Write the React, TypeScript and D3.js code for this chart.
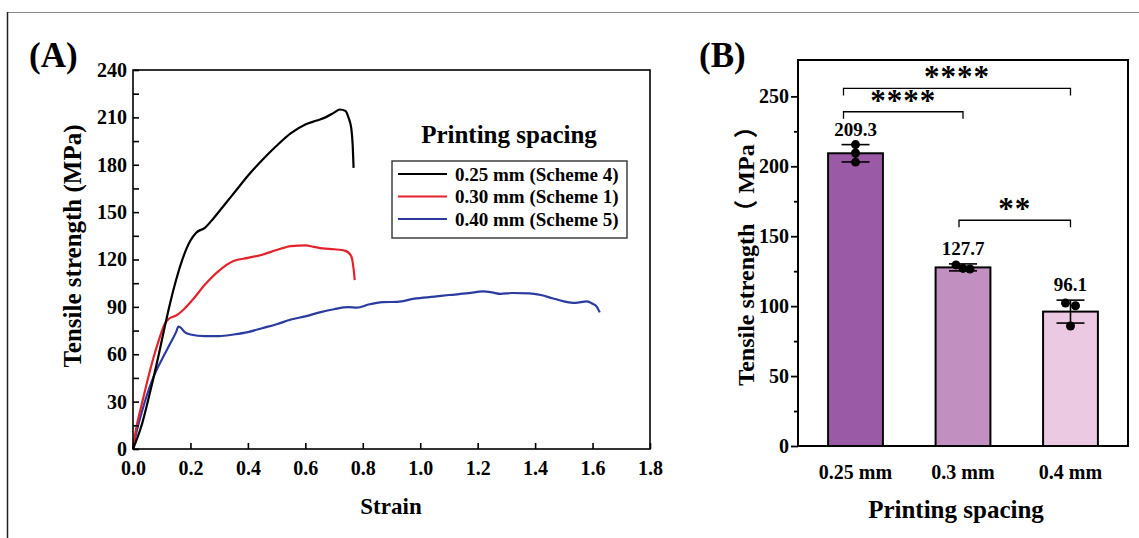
import { useEffect, useRef } from "react";
import * as d3 from "d3";

// Panel A: stress-strain curves (strain, MPa)
const curve025 = [
  [0, 0], [0.03, 15], [0.05, 29], [0.07, 44], [0.09, 60], [0.11, 77], [0.13, 93], [0.15, 107],
  [0.17, 119], [0.2, 132], [0.22, 137], [0.25, 140], [0.28, 146], [0.32, 155], [0.36, 164],
  [0.4, 173], [0.45, 183], [0.5, 192], [0.55, 200], [0.6, 205.5], [0.64, 208], [0.67, 210],
  [0.7, 213], [0.72, 215], [0.74, 214], [0.75, 210], [0.76, 203], [0.765, 192], [0.768, 178],
];
const curve030 = [
  [0, 0], [0.01, 12], [0.03, 28], [0.05, 43], [0.07, 57], [0.09, 69], [0.11, 79], [0.125, 82.5],
  [0.15, 84.5], [0.18, 89], [0.21, 95], [0.25, 104], [0.3, 113], [0.35, 119], [0.4, 121],
  [0.45, 123], [0.5, 126], [0.55, 128.5], [0.6, 129], [0.63, 128], [0.66, 127], [0.7, 126.5],
  [0.74, 125.5], [0.76, 122], [0.768, 114], [0.772, 107],
];
const curve040 = [
  [0, 0], [0.01, 9], [0.03, 23], [0.05, 35], [0.07, 45], [0.09, 53], [0.11, 60], [0.13, 67],
  [0.15, 74], [0.158, 77.5], [0.165, 77], [0.18, 74], [0.2, 72.5], [0.25, 71.5], [0.3, 71.5],
  [0.35, 72.5], [0.4, 74], [0.45, 76.5], [0.5, 79], [0.55, 82], [0.6, 84], [0.65, 86.5],
  [0.7, 88.5], [0.75, 89.8], [0.78, 89.5], [0.82, 91.5], [0.87, 93], [0.92, 93.2],
  [0.98, 95.2], [1.05, 96.5], [1.1, 97.5], [1.16, 98.5], [1.22, 99.8], [1.25, 99.2], [1.28, 98.2],
  [1.32, 98.8], [1.38, 98.6], [1.42, 97.5], [1.46, 95.5], [1.5, 93.5], [1.54, 92.5],
  [1.58, 93.5], [1.6, 92], [1.615, 90], [1.625, 86.5],
];
const seriesNames = ["0.25 mm (Scheme 4)", "0.30 mm (Scheme 1)", "0.40 mm (Scheme 5)"];
const seriesColors = ["#000000", "#e3232b", "#2c3b9f"];
const xTicksA = [0, 0.2, 0.4, 0.6, 0.8, 1.0, 1.2, 1.4, 1.6, 1.8];
const yTicksA = [0, 30, 60, 90, 120, 150, 180, 210, 240];

// Panel B: bars
const categories = ["0.25 mm", "0.3 mm", "0.4 mm"];
const means = [209.3, 127.7, 96.1];
const errors = [6.2, 2.5, 8.2];
const samples = [
  [215.5, 209.5, 203],
  [129.5, 127, 126.6],
  [102.2, 100.3, 85.8],
];
const barColors = ["#9b5aa5", "#c28fc1", "#ebc9e3"];
const yTicksB = [0, 50, 100, 150, 200, 250];
const brackets = [
  { from: 0, to: 2, level: 255.7, label: "****" },
  { from: 0, to: 1, level: 239, label: "****" },
  { from: 1, to: 2, level: 161.4, label: "**" },
];

const serif = "'Liberation Serif', 'Times New Roman', serif";
const cjkSerif = "'Liberation Serif', 'Noto Sans CJK SC', serif";

export default function App() {
  const ref = useRef<SVGSVGElement>(null);

  useEffect(() => {
    const svg = d3.select(ref.current);
    svg.selectAll("*").remove();

    // outer frame of the figure
    svg.append("line").attr("x1", 7).attr("x2", 1139).attr("y1", 12.5).attr("y2", 12.5)
      .attr("stroke", "#8a8a8a").attr("stroke-width", 1.2);
    svg.append("line").attr("x1", 7.5).attr("x2", 7.5).attr("y1", 12).attr("y2", 538)
      .attr("stroke", "#222").attr("stroke-width", 1.5);

    // ---------- Panel A ----------
    const xA = d3.scaleLinear().domain([0, 1.8]).range([133, 650]);
    const yA = d3.scaleLinear().domain([0, 240]).range([449, 70]);
    const gA = svg.append("g");

    gA.append("text").attr("x", 29).attr("y", 67).text("(A)")
      .attr("font-family", serif).attr("font-weight", "bold").attr("font-size", 35);

    const line = d3.line<number[]>().x((d) => xA(d[0])).y((d) => yA(d[1])).curve(d3.curveMonotoneX);
    [curve025, curve030, curve040].slice().reverse().forEach((c, i) => {
      gA.append("path").datum(c).attr("fill", "none")
        .attr("stroke", seriesColors[2 - i]).attr("stroke-width", 2.2)
        .attr("stroke-linejoin", "round").attr("d", line);
    });

    gA.append("rect").attr("x", xA(0)).attr("y", yA(240))
      .attr("width", xA(1.8) - xA(0)).attr("height", yA(0) - yA(240))
      .attr("fill", "none").attr("stroke", "#000").attr("stroke-width", 1.6);

    const yAxisA = d3.axisLeft(yA).tickValues(d3.range(0, 241, 15)).tickSize(-6)
      .tickFormat((d) => (yTicksA.includes(d as number) ? String(d) : ""));
    gA.append("g").attr("transform", `translate(${xA(0)},0)`).call(yAxisA)
      .call((g) => g.select(".domain").remove())
      .call((g) => g.selectAll("line").attr("stroke-width", 1.6))
      .call((g) => g.selectAll("text").attr("x", -6).attr("font-family", serif)
        .attr("font-weight", "bold").attr("font-size", 20));

    const xAxisA = d3.axisBottom(xA).tickValues(xTicksA).tickSize(-6).tickFormat(d3.format(".1f"));
    gA.append("g").attr("transform", `translate(0,${yA(0)})`).call(xAxisA)
      .call((g) => g.select(".domain").remove())
      .call((g) => g.selectAll("line").attr("stroke-width", 1.6))
      .call((g) => g.selectAll("text").attr("y", 12).attr("font-family", serif)
        .attr("font-weight", "bold").attr("font-size", 20));

    gA.append("text").attr("x", 391).attr("y", 514).attr("text-anchor", "middle")
      .attr("font-family", serif).attr("font-weight", "bold").attr("font-size", 23).text("Strain");
    gA.append("text").attr("transform", "translate(81,246) rotate(-90)").attr("text-anchor", "middle")
      .attr("font-family", serif).attr("font-weight", "bold").attr("font-size", 25)
      .text("Tensile strength (MPa)");

    // legend
    gA.append("text").attr("x", 509).attr("y", 143).attr("text-anchor", "middle")
      .attr("font-family", serif).attr("font-weight", "bold").attr("font-size", 25).text("Printing spacing");
    gA.append("rect").attr("x", 392).attr("y", 161).attr("width", 235).attr("height", 77)
      .attr("fill", "#fff").attr("stroke", "#333").attr("stroke-width", 1.4);
    seriesNames.forEach((name, i) => {
      const cy = 174 + i * 22.5;
      gA.append("line").attr("x1", 398).attr("x2", 447).attr("y1", cy).attr("y2", cy)
        .attr("stroke", seriesColors[i]).attr("stroke-width", 2.2);
      gA.append("text").attr("x", 455).attr("y", cy + 6.5).attr("font-family", serif)
        .attr("font-weight", "bold").attr("font-size", 19).text(name);
    });

    // ---------- Panel B ----------
    const xB = d3.scaleBand().domain(categories).range([798, 1128]).paddingInner(0.49).paddingOuter(0.28);
    const yB = d3.scaleLinear().domain([0, 276]).range([446, 60]);
    const gB = svg.append("g");

    gB.append("text").attr("x", 699).attr("y", 67).text("(B)")
      .attr("font-family", serif).attr("font-weight", "bold").attr("font-size", 35);

    categories.forEach((c, i) => {
      const x0 = xB(c)!;
      const cx = x0 + xB.bandwidth() / 2;
      gB.append("rect").attr("x", x0).attr("y", yB(means[i]))
        .attr("width", xB.bandwidth()).attr("height", yB(0) - yB(means[i]))
        .attr("fill", barColors[i]).attr("stroke", "#000").attr("stroke-width", 2);
      const top = yB(means[i] + errors[i]);
      const bot = yB(means[i] - errors[i]);
      gB.append("line").attr("x1", cx).attr("x2", cx).attr("y1", top).attr("y2", bot)
        .attr("stroke", "#000").attr("stroke-width", 1.6);
      [top, bot].forEach((y) => {
        gB.append("line").attr("x1", cx - 14).attr("x2", cx + 14).attr("y1", y).attr("y2", y)
          .attr("stroke", "#000").attr("stroke-width", 1.6);
      });
      const jitter = i === 0 ? [0, 0, 0] : i === 1 ? [-7, 0, 7] : [-5, 5, 0];
      samples[i].forEach((v, k) => {
        gB.append("circle").attr("cx", cx + jitter[k]).attr("cy", yB(v)).attr("r", 4.5).attr("fill", "#000");
      });
      gB.append("text").attr("x", cx).attr("y", top - 9).attr("text-anchor", "middle")
        .attr("font-family", serif).attr("font-weight", "bold").attr("font-size", 19)
        .text(means[i].toFixed(1));
    });

    brackets.forEach((b) => {
      const x1 = xB(categories[b.from])! + xB.bandwidth() / 2 - (b.from === 0 ? 12 : 4);
      const x2 = xB(categories[b.to])! + xB.bandwidth() / 2;
      const y = yB(b.level);
      gB.append("path").attr("d", `M${x1},${y + 7}V${y}H${x2}V${y + 7}`)
        .attr("fill", "none").attr("stroke", "#000").attr("stroke-width", 1.3);
      gB.append("text").attr("x", (x1 + x2) / 2).attr("y", y - 1).attr("text-anchor", "middle")
        .attr("font-family", serif).attr("font-weight", "bold").attr("font-size", 31)
        .attr("letter-spacing", 1).text(b.label);
    });

    gB.append("rect").attr("x", 798).attr("y", yB(276))
      .attr("width", 330).attr("height", yB(0) - yB(276))
      .attr("fill", "none").attr("stroke", "#000").attr("stroke-width", 2);

    const yAxisB = d3.axisLeft(yB).tickValues(d3.range(0, 251, 25)).tickSize(7)
      .tickFormat((d) => (yTicksB.includes(d as number) ? String(d) : ""));
    gB.append("g").attr("transform", "translate(798,0)").call(yAxisB)
      .call((g) => g.select(".domain").remove())
      .call((g) => g.selectAll("line").attr("stroke-width", 1.8)
        .attr("x2", (d) => (yTicksB.includes(d as number) ? -7 : -4)))
      .call((g) => g.selectAll("text").attr("x", -9).attr("font-family", serif)
        .attr("font-weight", "bold").attr("font-size", 20));

    const xAxisB = d3.axisBottom(xB).tickSize(0);
    gB.append("g").attr("transform", `translate(0,${yB(0)})`).call(xAxisB)
      .call((g) => g.select(".domain").remove())
      .call((g) => g.selectAll("text").attr("y", 19).attr("font-family", serif)
        .attr("font-weight", "bold").attr("font-size", 20));

    gB.append("text").attr("x", 956).attr("y", 518).attr("text-anchor", "middle")
      .attr("font-family", serif).attr("font-weight", "bold").attr("font-size", 25).text("Printing spacing");
    gB.append("text").attr("transform", "translate(754,250) rotate(-90)").attr("text-anchor", "middle")
      .attr("font-family", cjkSerif).attr("font-weight", "bold").attr("font-size", 24)
      .text("Tensile strength（ MPa ）");
  }, []);

  return (
    <svg ref={ref} width={1139} height={538}
      style={{ position: "absolute", left: 0, top: 0, background: "#fff" }} />
  );
}
